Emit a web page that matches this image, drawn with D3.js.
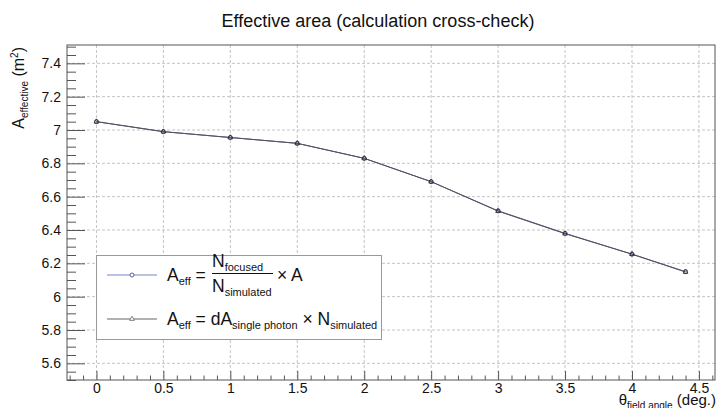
<!DOCTYPE html>
<html>
<head>
<meta charset="utf-8">
<script src="https://cdn.jsdelivr.net/npm/d3@7"></script>
<style>
  body { margin: 0; background: #fff; }
  svg { display: block; font-family: 'Liberation Sans', Arial, sans-serif; }
</style>
</head>
<body>
<svg id="chart" width="722" height="408"></svg>
<script>
// field angle (deg.)
const angles = [0, 0.5, 1, 1.5, 2, 2.5, 3, 3.5, 4, 4.4]
// A_eff from N_focused / N_simulated * A
const effFocused = [7.05, 6.99, 6.955, 6.92, 6.83, 6.69, 6.515, 6.38, 6.255, 6.15]
// A_eff from dA_single photon * N_simulated
const effSingle = [7.05, 6.99, 6.955, 6.92, 6.83, 6.69, 6.513, 6.378, 6.255, 6.148]

const xTicks = [0, 0.5, 1, 1.5, 2, 2.5, 3, 3.5, 4, 4.5]
const yTicks = [5.6, 5.8, 6, 6.2, 6.4, 6.6, 6.8, 7, 7.2, 7.4]

const margin = { top: 45, right: 7, bottom: 28, left: 67 }
const svg = d3.select('#chart')
const W = +svg.attr('width'), H = +svg.attr('height')
const width = W - margin.left - margin.right
const height = H - margin.top - margin.bottom

const x = d3.scaleLinear().domain([-0.22, 4.62]).range([0, width])
const y = d3.scaleLinear().domain([5.5, 7.51]).range([height, 0])

const g = svg.append('g').attr('transform', `translate(${margin.left},${margin.top})`)

// grid
g.append('g')
  .selectAll('line')
  .data(xTicks.filter(d => d < 4.62))
  .join('line')
  .attr('x1', d => x(d)).attr('x2', d => x(d))
  .attr('y1', 0).attr('y2', height)
  .attr('stroke', '#c4c4c4').attr('stroke-dasharray', '3,2')
g.append('g')
  .selectAll('line')
  .data(yTicks)
  .join('line')
  .attr('y1', d => y(d)).attr('y2', d => y(d))
  .attr('x1', 0).attr('x2', width)
  .attr('stroke', '#c4c4c4').attr('stroke-dasharray', '3,2')

// minor / major ticks
const xMinor = d3.range(-2, 47).map(i => i / 10).filter(d => !xTicks.some(t => Math.abs(t - d) < 1e-6))
const yMinor = d3.range(110, 151).map(i => i / 20).filter(d => !yTicks.some(t => Math.abs(t - d) < 1e-6))

const xAxis = d3.axisBottom(x).tickValues(xTicks).tickSize(-9).tickPadding(3).tickFormat(d3.format('~g'))
const yAxis = d3.axisLeft(y).tickValues(yTicks).tickSize(-18).tickPadding(6).tickFormat(d3.format('~g'))

g.append('g')
  .attr('transform', `translate(0,${height})`)
  .call(d3.axisBottom(x).tickValues(xMinor).tickSize(-4.5).tickFormat(''))
  .call(a => a.select('.domain').remove())
g.append('g')
  .call(d3.axisLeft(y).tickValues(yMinor).tickSize(-9).tickFormat(''))
  .call(a => a.select('.domain').remove())

g.append('g')
  .attr('transform', `translate(0,${height})`)
  .call(xAxis)
  .call(a => a.select('.domain').remove())
g.append('g')
  .call(yAxis)
  .call(a => a.select('.domain').remove())

g.selectAll('.tick line').attr('stroke', '#555')
g.selectAll('.tick text').attr('font-size', 14).attr('fill', '#111')
  .attr('font-family', "'Liberation Sans', Arial, sans-serif")

// frame
g.append('rect')
  .attr('width', width).attr('height', height)
  .attr('fill', 'none').attr('stroke', '#555').attr('stroke-width', 1)

// series
const line = d3.line().x(d => x(d[0])).y(d => y(d[1]))
const s1 = angles.map((a, i) => [a, effFocused[i]])
const s2 = angles.map((a, i) => [a, effSingle[i]])

g.append('path').datum(s1)
  .attr('d', line).attr('fill', 'none').attr('stroke', '#4a55a0').attr('stroke-width', 1)
g.append('path').datum(s2)
  .attr('d', line).attr('fill', 'none').attr('stroke', '#555').attr('stroke-width', 1)

g.append('g').selectAll('circle')
  .data(s1)
  .join('circle')
  .attr('cx', d => x(d[0])).attr('cy', d => y(d[1])).attr('r', 2)
  .attr('fill', 'none').attr('stroke', '#2c2f6e').attr('stroke-width', 1)

const tri = d3.symbol().type(d3.symbolTriangle).size(10)
g.append('g').selectAll('path')
  .data(s2)
  .join('path')
  .attr('d', tri)
  .attr('transform', d => `translate(${x(d[0])},${y(d[1])})`)
  .attr('fill', 'none').attr('stroke', '#333').attr('stroke-width', 0.8)

// legend
const lg = svg.append('g')
lg.append('rect')
  .attr('x', 96.5).attr('y', 255.5).attr('width', 285).attr('height', 84)
  .attr('fill', '#fff').attr('stroke', '#999').attr('stroke-width', 1)

lg.append('line').attr('x1', 107).attr('x2', 157).attr('y1', 275).attr('y2', 275)
  .attr('stroke', '#7b84c8')
lg.append('circle').attr('cx', 132).attr('cy', 275).attr('r', 2)
  .attr('fill', '#fff').attr('stroke', '#5a62a8')
lg.append('line').attr('x1', 107).attr('x2', 157).attr('y1', 319).attr('y2', 319)
  .attr('stroke', '#666')
lg.append('path').attr('d', tri).attr('transform', 'translate(132,319)')
  .attr('fill', '#fff').attr('stroke', '#666').attr('stroke-width', 0.8)

const fs = 17.5, sub = 11
const t1 = lg.append('text').attr('x', 167).attr('y', 281).attr('font-size', fs).attr('fill', '#111')
t1.append('tspan').text('A')
t1.append('tspan').attr('font-size', sub).attr('dy', 4).text('eff')
t1.append('tspan').attr('dy', -4).text(' =')

const num = lg.append('text').attr('x', 212).attr('y', 267).attr('font-size', fs).attr('fill', '#111')
num.append('tspan').text('N')
num.append('tspan').attr('font-size', sub).attr('dy', 4).text('focused')
const den = lg.append('text').attr('x', 212).attr('y', 292).attr('font-size', fs).attr('fill', '#111')
den.append('tspan').text('N')
den.append('tspan').attr('font-size', sub).attr('dy', 4).text('simulated')
lg.append('line').attr('x1', 212).attr('x2', 273).attr('y1', 273.5).attr('y2', 273.5)
  .attr('stroke', '#111').attr('stroke-width', 1)
lg.append('text').attr('x', 277).attr('y', 281).attr('font-size', fs).attr('fill', '#111').text('\u00d7 A')

const t2 = lg.append('text').attr('x', 167).attr('y', 325).attr('font-size', fs).attr('fill', '#111')
t2.append('tspan').text('A')
t2.append('tspan').attr('font-size', sub).attr('dy', 4).text('eff')
t2.append('tspan').attr('dy', -4).text(' = dA')
t2.append('tspan').attr('font-size', sub).attr('dy', 4).text('single photon')
t2.append('tspan').attr('dy', -4).text(' \u00d7 N')
t2.append('tspan').attr('font-size', sub).attr('dy', 4).text('simulated')

// title
svg.append('text').attr('x', 378).attr('y', 27).attr('text-anchor', 'middle')
  .attr('font-size', 18).attr('fill', '#111')
  .text('Effective area (calculation cross-check)')

// axis titles
const yl = svg.append('text')
  .attr('transform', 'translate(24,47) rotate(-90)')
  .attr('text-anchor', 'end').attr('font-size', 16).attr('fill', '#111')
yl.append('tspan').text('A')
yl.append('tspan').attr('font-size', 10).attr('dy', 4).text('effective')
yl.append('tspan').attr('dy', -4).text(' (m')
yl.append('tspan').attr('font-size', 10).attr('dy', -6).text('2')
yl.append('tspan').attr('dy', 6).text(')')

const xl = svg.append('text')
  .attr('x', 716).attr('y', 405)
  .attr('text-anchor', 'end').attr('font-size', 15).attr('fill', '#111')
xl.append('tspan').text('\u03b8')
xl.append('tspan').attr('font-size', 10).attr('dy', 4).text('field angle')
xl.append('tspan').attr('dy', -4).text(' (deg.)')
</script>
</body>
</html>
